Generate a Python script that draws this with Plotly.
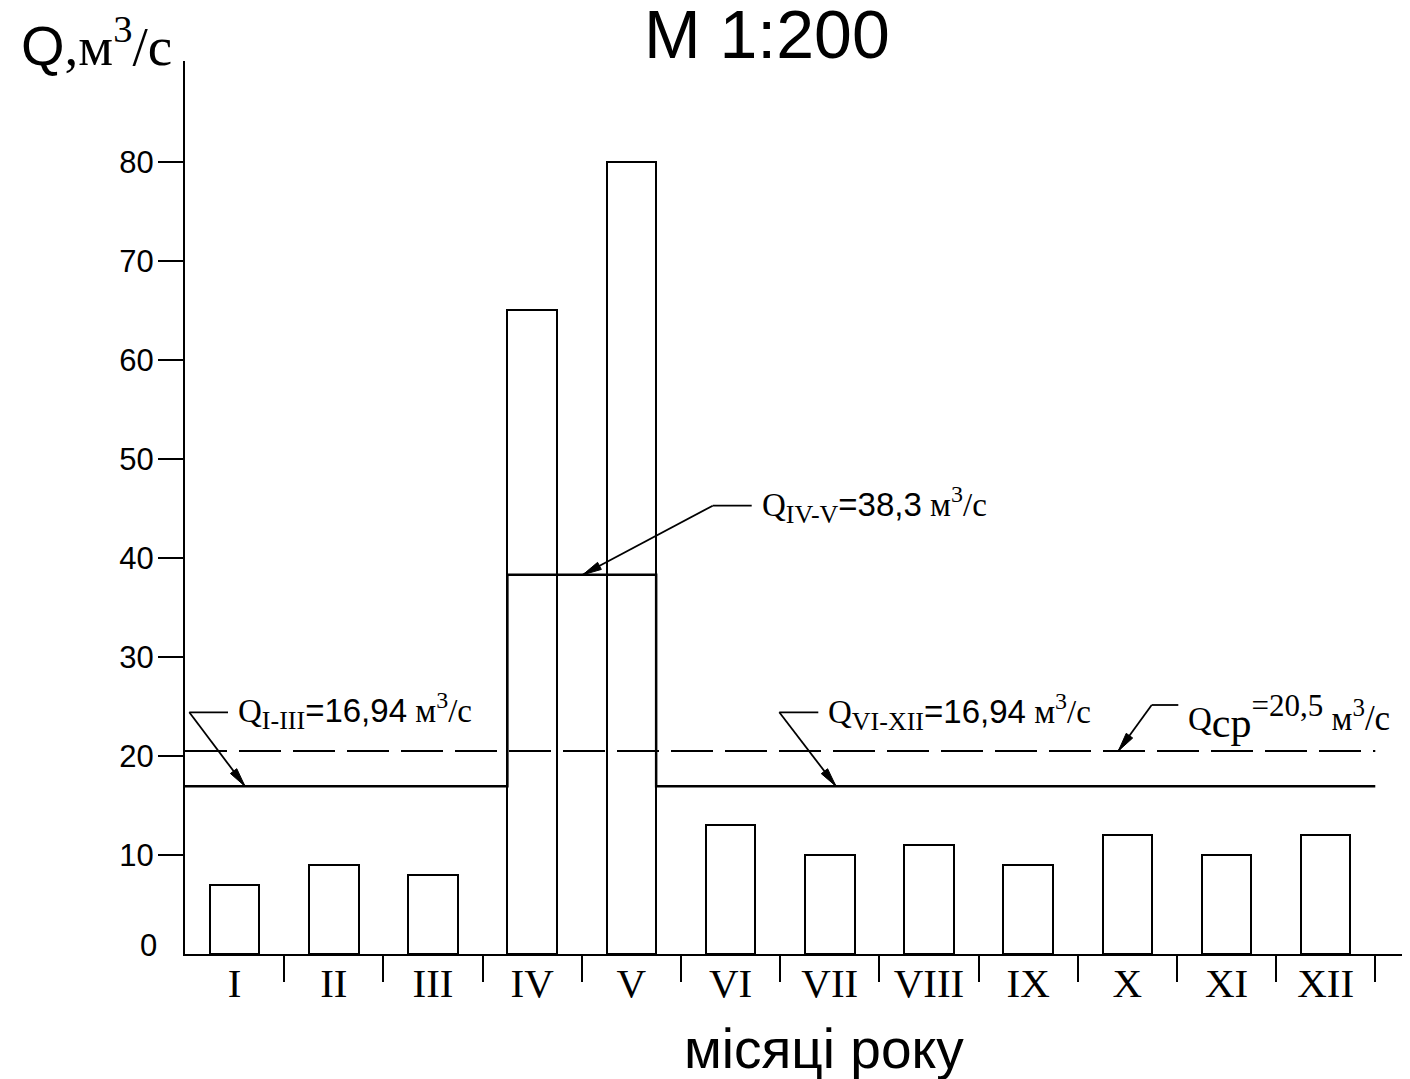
import math
import plotly.graph_objects as go

# ---------------- data ----------------
months = ["I", "II", "III", "IV", "V", "VI", "VII", "VIII", "IX", "X", "XI", "XII"]
flows = [7, 9, 8, 65, 80, 13, 10, 11, 9, 12, 10, 12]          # Q, m3/s per month
q_low_1 = 16.94      # Q I-III
q_flood = 38.3       # Q IV-V
q_low_2 = 16.94      # Q VI-XII
q_mean = 20.5        # Q ср
y_tick_vals = [10, 20, 30, 40, 50, 60, 70, 80]

# ---------------- layout constants ----------------
SERIF = "Liberation Serif"
SANS = "Liberation Sans"
OFF = 8                      # page body margin of the html page
SCREEN_W, SCREEN_H = 1410, 1079
W, H = SCREEN_W - OFF, SCREEN_H - OFF
ML, MR, MT = 185 - OFF, 0, 61 - OFF
MB = H - (954 - OFF)
X_RANGE = [0, 12.35]
Y_RANGE = [0, 90.2]
PW = W - ML - MR
PH = H - MT - MB


# helpers: positions given in screen pixels -> figure coordinates
def px_to_x(px):
    return X_RANGE[0] + (px - OFF - ML) / PW * (X_RANGE[1] - X_RANGE[0])


def py_to_y(py):
    return Y_RANGE[0] + (H - MB - (py - OFF)) / PH * (Y_RANGE[1] - Y_RANGE[0])


def y_to_py(y):
    return OFF + H - MB - (y - Y_RANGE[0]) / (Y_RANGE[1] - Y_RANGE[0]) * PH


def px_to_paper_x(px):
    return (px - OFF - ML) / PW


def py_to_paper_y(py):
    return (H - MB - (py - OFF)) / PH


n = len(months)
centers = [i + 0.5 for i in range(n)]
BAR_W = 0.5
flood_start = centers[3] - BAR_W / 2
flood_end = centers[4] + BAR_W / 2
step_x = [0, flood_start, flood_start, flood_end, flood_end, n]
step_y = [q_low_1, q_low_1, q_flood, q_flood, q_low_2, q_low_2]

fig = go.Figure()
fig.add_trace(go.Bar(
    x=centers, y=flows, width=BAR_W,
    marker=dict(color="white", line=dict(color="black", width=2)),
    hoverinfo="skip", showlegend=False,
))
fig.add_trace(go.Scatter(
    x=[0, n], y=[q_mean, q_mean], mode="lines",
    line=dict(color="black", width=2, dash="42px,12px"),
    hoverinfo="skip", showlegend=False,
))
fig.add_trace(go.Scatter(
    x=step_x, y=step_y, mode="lines",
    line=dict(color="black", width=2.5),
    hoverinfo="skip", showlegend=False,
))


def fmt(v):
    s = "%.2f" % v
    s = s.rstrip("0")
    if s.endswith("."):
        s += "0"
    return s.replace(".", ",")


def sans(s):
    return "<span style=\"font-family:'Liberation Sans'\">" + s + "</span>"


def fs(s, size):
    return "<span style=\"font-size:%dpx\">%s</span>" % (size, s)


unit = " м<sup>" + fs("3", 24) + "</sup>/с"
unit_cp = " м<sup>" + fs("3", 25) + "</sup>" + fs("/с", 35)

callouts = [
    dict(text="Q<sub>" + fs("I-III", 26) + "</sub>" + sans("=" + fmt(q_low_1)) + unit,
         tx=236, ty=711, corner=(189.3, 712.3), end=228, tip_px=245, tip_val=q_low_1),
    dict(text="Q<sub>" + fs("IV-V", 26) + "</sub>" + sans("=" + fmt(q_flood)) + unit,
         tx=760, ty=505, corner=(712.7, 505.7), end=751.7, tip_px=582.7, tip_val=q_flood),
    dict(text="Q<sub>" + fs("VI-XII", 26) + "</sub>" + sans("=" + fmt(q_low_2)) + unit,
         tx=826, ty=712, corner=(779.3, 712.3), end=818.3, tip_px=836, tip_val=q_low_2),
    dict(text="Q<sub>" + fs("ср", 42) + "</sub><sup>" + fs("=" + fmt(q_mean), 31) + "</sup>" + unit_cp,
         tx=1186, ty=717, corner=(1151.7, 705), end=1178.3, tip_px=1118.3, tip_val=q_mean),
]

shapes = []
annotations = []
ARROW_L, ARROW_HW = 19, 4
for c in callouts:
    cx, cy = c["corner"]
    tx_px = c["tip_px"]
    ty_px = y_to_py(c["tip_val"])
    shapes.append(dict(type="line", xref="x", yref="y",
                       x0=px_to_x(cx), y0=py_to_y(cy), x1=px_to_x(c["end"]), y1=py_to_y(cy),
                       line=dict(color="black", width=1.8)))
    shapes.append(dict(type="line", xref="x", yref="y",
                       x0=px_to_x(cx), y0=py_to_y(cy), x1=px_to_x(tx_px), y1=py_to_y(ty_px),
                       line=dict(color="black", width=1.8)))
    dx, dy = tx_px - cx, ty_px - cy
    d = math.hypot(dx, dy)
    ux, uy = dx / d, dy / d
    bx, by = tx_px - ARROW_L * ux, ty_px - ARROW_L * uy
    nx, ny = -uy, ux
    p1 = (bx + ARROW_HW * nx, by + ARROW_HW * ny)
    p2 = (bx - ARROW_HW * nx, by - ARROW_HW * ny)
    path = "M %f,%f L %f,%f L %f,%f Z" % (
        px_to_x(tx_px), py_to_y(ty_px), px_to_x(p1[0]), py_to_y(p1[1]), px_to_x(p2[0]), py_to_y(p2[1]))
    shapes.append(dict(type="path", xref="x", yref="y", path=path,
                       fillcolor="black", line=dict(color="black", width=1)))
    annotations.append(dict(text=c["text"], xref="paper", yref="paper",
                            x=px_to_paper_x(c["tx"]), y=py_to_paper_y(c["ty"]),
                            xanchor="left", yanchor="middle", showarrow=False,
                            font=dict(family=SERIF, size=33, color="black")))

# title
annotations.append(dict(text="M 1:200", xref="paper", yref="paper",
                        x=px_to_paper_x(767), y=py_to_paper_y(34),
                        xanchor="center", yanchor="middle", showarrow=False,
                        font=dict(family=SANS, size=68, color="black")))
# y axis title
annotations.append(dict(text="<span style=\"font-family:'Liberation Sans';font-size:56px\">Q</span>,м<sup>3</sup>/с",
                        xref="paper", yref="paper",
                        x=px_to_paper_x(19), y=py_to_paper_y(42),
                        xanchor="left", yanchor="middle", showarrow=False,
                        font=dict(family=SERIF, size=55, color="black")))
# x axis title
annotations.append(dict(text="місяці року", xref="paper", yref="paper",
                        x=px_to_paper_x(824), y=py_to_paper_y(1049),
                        xanchor="center", yanchor="middle", showarrow=False,
                        font=dict(family=SANS, size=55, color="black")))
# zero label
annotations.append(dict(text="0", xref="paper", yref="paper",
                        x=px_to_paper_x(159), y=py_to_paper_y(945),
                        xanchor="right", yanchor="middle", showarrow=False,
                        font=dict(family=SANS, size=31, color="black")))

fig.update_layout(
    width=W, height=H,
    margin=dict(l=ML, r=MR, t=MT, b=MB, autoexpand=False),
    paper_bgcolor="white", plot_bgcolor="white",
    showlegend=False, bargap=0,
    shapes=shapes, annotations=annotations,
    xaxis=dict(range=X_RANGE, showgrid=False, zeroline=False,
               showline=True, linecolor="black", linewidth=2,
               tickmode="array", tickvals=centers, ticktext=months,
               ticks="outside", ticklen=0, tickwidth=0, ticklabelstandoff=-8,
               tickfont=dict(family=SERIF, size=41, color="black"),
               minor=dict(tickmode="array", tickvals=list(range(1, n + 1)),
                          ticks="outside", ticklen=26, tickwidth=2, tickcolor="black", showgrid=False)),
    yaxis=dict(range=Y_RANGE, showgrid=False, zeroline=False,
               showline=True, linecolor="black", linewidth=2,
               tickmode="array", tickvals=y_tick_vals,
               ticks="outside", ticklen=25, tickwidth=2, tickcolor="black",
               ticklabelstandoff=-2,
               tickfont=dict(family=SANS, size=31, color="black")),
)

fig.write_html("out.html")
